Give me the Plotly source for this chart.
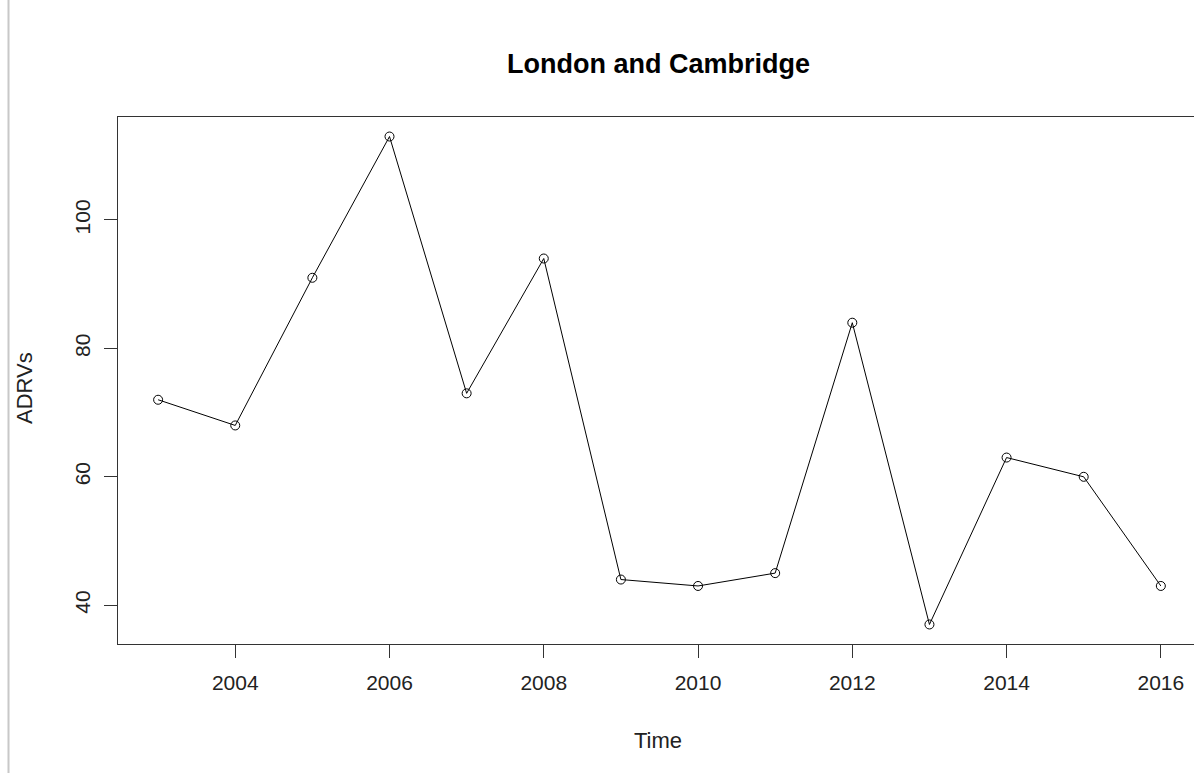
import plotly.graph_objects as go

years = [2003, 2004, 2005, 2006, 2007, 2008, 2009, 2010, 2011, 2012, 2013, 2014, 2015, 2016]
adrvs = [72, 68, 91, 113, 73, 94, 44, 43, 45, 84, 37, 63, 60, 43]

x_ticks = [2004, 2006, 2008, 2010, 2012, 2014, 2016]
y_ticks = [40, 60, 80, 100]

# body margin is removed in the page, so figure pixels == window pixels
W, H = 1194, 773
L, T = 118, 117
B = H - 644
PW, PH = W - L, H - T - B
font = "Liberation Sans, Arial, sans-serif"


def px_x(sx):
    return (sx - L) / PW


def px_y(sy):
    return (H - B - sy) / PH


fig = go.Figure()
fig.add_trace(go.Scatter(
    x=years, y=adrvs, mode="lines+markers",
    line=dict(color="black", width=1),
    marker=dict(symbol="circle-open", size=9, color="black", line=dict(width=1)),
    showlegend=False, cliponaxis=False, hoverinfo="skip",
))

axis_col = "#333333"
fig.update_layout(
    width=W, height=H,
    margin=dict(l=L, r=0, t=T, b=B),
    paper_bgcolor="white", plot_bgcolor="white",
    font=dict(family=font, color="#222222", size=21),
    xaxis=dict(
        range=[2002.48, 2016.43], tickvals=x_ticks,
        showgrid=False, zeroline=False,
        showline=True, mirror=True, linecolor=axis_col, linewidth=1,
        ticks="outside", ticklen=13, tickcolor=axis_col, tickwidth=1,
        tickfont=dict(size=21), ticklabelstandoff=7,
    ),
    yaxis=dict(
        range=[33.96, 116.04], tickvals=y_ticks,
        showgrid=False, zeroline=False,
        showline=True, mirror=False, linecolor=axis_col, linewidth=1,
        ticks="outside", ticklen=13, tickcolor=axis_col, tickwidth=1,
        tickfont=dict(size=21), tickangle=-90, ticklabelstandoff=6,
    ),
    annotations=[
        dict(text="<b>London and Cambridge</b>", xref="paper", yref="paper",
             x=px_x(658), y=px_y(64),
             showarrow=False, font=dict(size=27, color="black"),
             xanchor="center", yanchor="middle"),
        dict(text="Time", xref="paper", yref="paper",
             x=px_x(658), y=px_y(740),
             showarrow=False, font=dict(size=22),
             xanchor="center", yanchor="middle"),
        dict(text="ADRVs", xref="paper", yref="paper",
             x=px_x(25), y=px_y(388),
             showarrow=False, font=dict(size=22), textangle=-90,
             xanchor="center", yanchor="middle"),
    ],
    shapes=[
        dict(type="line", xref="paper", yref="paper",
             x0=px_x(8.5), x1=px_x(8.5),
             y0=px_y(773), y1=px_y(0),
             line=dict(color="#c8c8c8", width=2)),
    ],
)

fig.write_html(
    "out.html",
    config={"displayModeBar": False},
    post_script="document.body.style.margin='0';document.body.style.overflow='hidden';",
)
